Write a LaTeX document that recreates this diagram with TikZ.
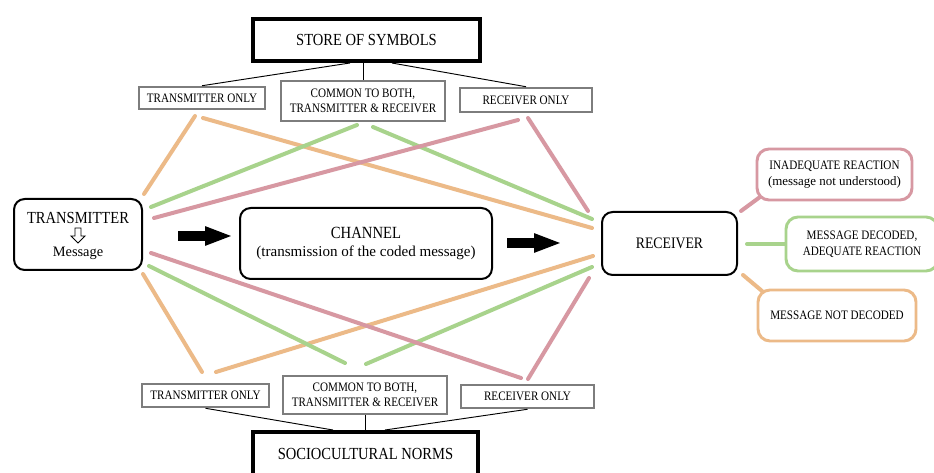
\documentclass[tikz,border=0pt]{standalone}
\usepackage{fontspec}
\setmainfont{Liberation Serif}[FakeStretch=0.86]
\newfontfamily\plainserif{Liberation Serif}
\usetikzlibrary{arrows.meta,calc}
\definecolor{cOrange}{RGB}{236,186,136}
\definecolor{cGreen}{RGB}{168,211,140}
\definecolor{cPink}{RGB}{215,152,162}
\definecolor{cGray}{RGB}{125,125,125}
\tikzset{
  bigbox/.style={draw=black, line width=3pt, inner sep=0pt, font=\fontsize{12.7}{14}\selectfont},
  smallbox/.style={draw=cGray, line width=1.9pt, inner sep=0pt, align=center, font=\fontsize{9.7}{11.4}\selectfont},
  roundbox/.style={draw=black, line width=1.5pt, rounded corners=8pt, inner sep=0pt, align=center},
  outbox/.style={line width=2.2pt, rounded corners=9pt, inner sep=0pt, align=center, font=\fontsize{9.7}{12}\selectfont},
  link/.style={line width=0.7pt, draw=black},
  cline/.style={line width=3pt, line cap=round},
  bigarrow/.style={line width=7.5pt, -{Triangle[length=21pt, width=13pt]}},
}
\begin{document}
\begin{tikzpicture}[x=0.75pt, y=-0.75pt]
\clip (0,0) rectangle (934,473);
\fill[white] (0,0) rectangle (934,473);

% top part
\node[bigbox, minimum width=170pt, minimum height=31.5pt] (store) at (366.5,40) {STORE OF SYMBOLS};
\node[smallbox, minimum width=94.5pt, minimum height=16.5pt] (tonlyT) at (202,98) {TRANSMITTER ONLY};
\node[smallbox, minimum width=123pt, minimum height=30pt] (commonT) at (363,101) {COMMON TO BOTH,\\TRANSMITTER \& RECEIVER};
\node[smallbox, minimum width=99pt, minimum height=18pt] (ronlyT) at (526,100) {RECEIVER ONLY};

\draw[link] (tonlyT.north) -- ([xshift=-12.4pt]store.south);
\draw[link] (commonT.north) -- (commonT.north |- store.south);
\draw[link] (ronlyT.north) -- ([xshift=19pt]store.south);

% bottom part
\node[bigbox, minimum width=168.75pt, minimum height=33pt] (socio) at (365.5,454) {SOCIOCULTURAL NORMS};
\node[smallbox, minimum width=95.25pt, minimum height=17.25pt] (tonlyB) at (205.5,395.5) {TRANSMITTER ONLY};
\node[smallbox, minimum width=123pt, minimum height=28.5pt] (commonB) at (365,395) {COMMON TO BOTH,\\TRANSMITTER \& RECEIVER};
\node[smallbox, minimum width=99.75pt, minimum height=17.25pt] (ronlyB) at (527.5,396.5) {RECEIVER ONLY};

\draw[link] (tonlyB.south) -- ([xshift=-24.4pt]socio.north);
\draw[link] (commonB.south) -- (commonB.south |- socio.north);
\draw[link] (ronlyB.south) -- ([xshift=14.6pt]socio.north);

% middle row
\node[roundbox, minimum width=96pt, minimum height=53.25pt] (trans) at (78,234.5) {};
\node[font=\fontsize{12.7}{14}\selectfont, inner sep=0pt] (transT) at (78,218) {TRANSMITTER};
\node[font=\plainserif\fontsize{10.8}{12}\selectfont, inner sep=0pt] (transM) at (78,253) {Message};
\draw[line width=0.7pt, fill=white] (75,228) -- (81,228) -- (81,236) -- (85,236) -- (78,243) -- (71,236) -- (75,236) -- cycle;

\node[roundbox, minimum width=189pt, minimum height=53.25pt] (channel) at (366,243.5) {\fontsize{12.8}{15}\selectfont CHANNEL\\[1pt]\plainserif\fontsize{11.3}{14}\selectfont (transmission of the coded message)};
\node[roundbox, minimum width=101.25pt, minimum height=47.25pt, font=\fontsize{12}{14}\selectfont] (recv) at (669.5,243.5) {RECEIVER};

\coordinate (a1s) at (178,236);
\coordinate (a1e) at (233,236);
\coordinate (a2s) at (507,243);
\coordinate (a2e) at (562,243);
\draw[bigarrow] (a1s) -- (a1e);
\draw[bigarrow] (a2s) -- (a2e);

% outcomes
\node[outbox, draw=cPink, minimum width=116.25pt, minimum height=38.25pt] (inad) at (834.5,174.5) {INADEQUATE REACTION\\{\plainserif (message not understood)}};
\node[outbox, draw=cGreen, minimum width=114pt, minimum height=40.5pt] (dec) at (862,244) {MESSAGE DECODED,\\ADEQUATE REACTION};
\node[outbox, draw=cOrange, minimum width=118.5pt, minimum height=38.25pt] (notdec) at (837,315.5) {MESSAGE NOT DECODED};

\coordinate (rp1) at (741,211); \coordinate (rp2) at (760,197);
\coordinate (rg1) at (747,244);
\coordinate (ro1) at (743,275); \coordinate (ro2) at (762,291);
\draw[cline, draw=cPink] (rp1) -- (rp2);
\draw[cline, draw=cGreen] (rg1) -- (dec.west);
\draw[cline, draw=cOrange] (ro1) -- (ro2);

% colored connectors, top
\coordinate (to1) at (144,194); \coordinate (to2) at (195,116);
\coordinate (to3) at (203,118); \coordinate (to4) at (592,228);
\coordinate (tg1) at (151,207); \coordinate (tg2) at (357,125);
\coordinate (tg3) at (373,127); \coordinate (tg4) at (592,219);
\coordinate (tp1) at (154,218); \coordinate (tp2) at (518,120);
\coordinate (tp3) at (528,118); \coordinate (tp4) at (588,211);
\draw[cline, draw=cOrange] (to1) -- (to2);
\draw[cline, draw=cOrange] (to3) -- (to4);
\draw[cline, draw=cGreen] (tg1) -- (tg2);
\draw[cline, draw=cGreen] (tg3) -- (tg4);
\draw[cline, draw=cPink] (tp1) -- (tp2);
\draw[cline, draw=cPink] (tp3) -- (tp4);

% colored connectors, bottom
\coordinate (bo1) at (143,274); \coordinate (bo2) at (202,372);
\coordinate (bo3) at (216,372); \coordinate (bo4) at (593,256);
\coordinate (bg1) at (149,266); \coordinate (bg2) at (345,363);
\coordinate (bg3) at (366,364); \coordinate (bg4) at (592,267);
\coordinate (bp1) at (151,253); \coordinate (bp2) at (521,378);
\coordinate (bp3) at (528,379); \coordinate (bp4) at (589,278);
\draw[cline, draw=cOrange] (bo1) -- (bo2);
\draw[cline, draw=cOrange] (bo3) -- (bo4);
\draw[cline, draw=cGreen] (bg1) -- (bg2);
\draw[cline, draw=cGreen] (bg3) -- (bg4);
\draw[cline, draw=cPink] (bp1) -- (bp2);
\draw[cline, draw=cPink] (bp3) -- (bp4);
\end{tikzpicture}
\end{document}
